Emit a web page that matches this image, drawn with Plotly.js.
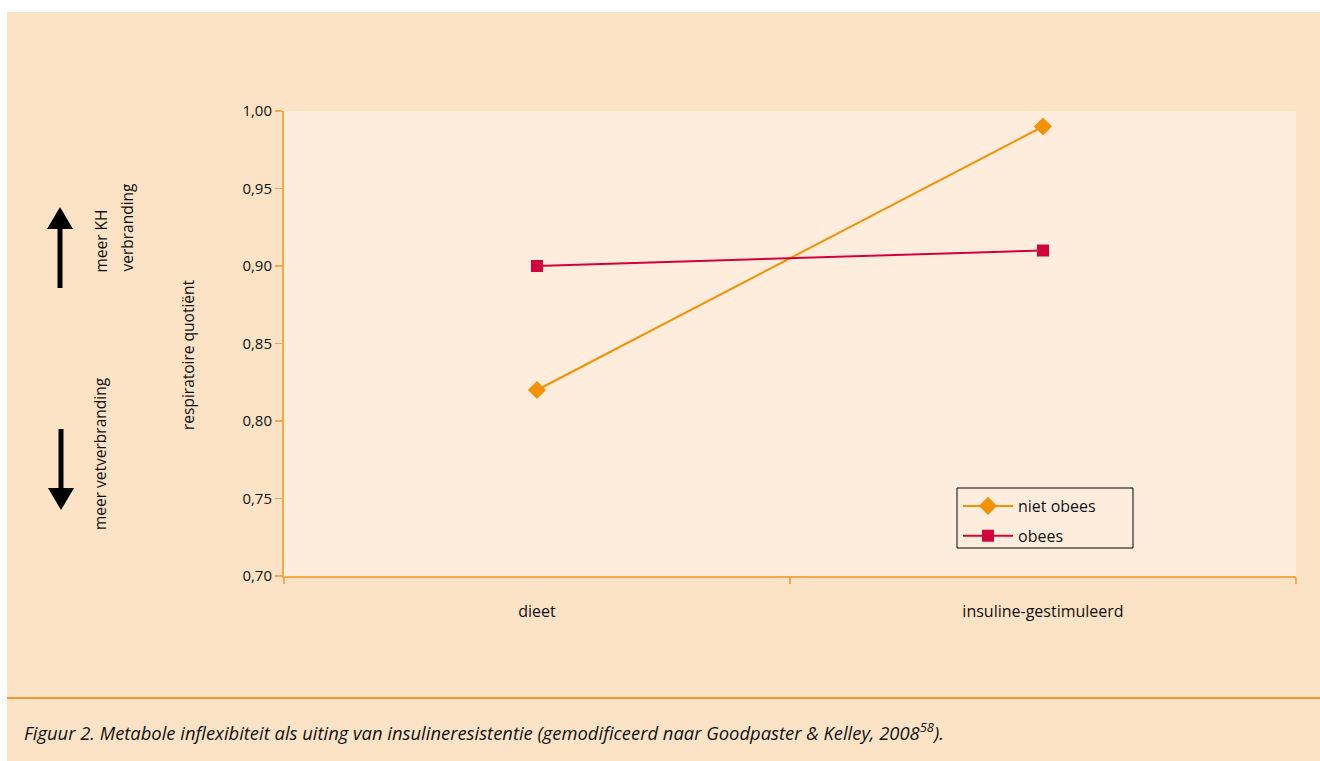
<!DOCTYPE html>
<html>
<head>
<meta charset="utf-8">
<script src="https://cdn.plot.ly/plotly-3.0.1.min.js"></script>
<style>html,body{margin:0;padding:0;background:#fff;}#chart{width:1320px;height:761px;}</style>
</head>
<body>
<div id="chart"></div>
<script>
const categories = ["dieet", "insuline-gestimuleerd"];
const nietObees = [0.82, 0.99];
const obees = [0.90, 0.91];
const seriesNames = ["niet obees", "obees"];
const yTicks = [0.70, 0.75, 0.80, 0.85, 0.90, 0.95, 1.00];
const yTickLabels = ["0,70", "0,75", "0,80", "0,85", "0,90", "0,95", "1,00"];

const W = 1320, H = 761;
const L = 284, R = 1296, T = 111, B = 576;
const pw = R - L, ph = B - T;
const px = x => (x - L) / pw;
const py = y => (B - y) / ph;

const FONT = "Open Sans, DejaVu Sans, sans-serif";
const axisColor = "#F5A94A";
const plotBg = "#FEEDDC";

const traces = [
  {x: categories, y: nietObees, name: seriesNames[0], type: "scatter", mode: "lines+markers", legendgroup: "a",
   line: {color: "#F39200", width: 2}, marker: {symbol: "diamond", size: 14, color: "#F39200"}},
  {x: categories, y: obees, name: seriesNames[1], type: "scatter", mode: "lines+markers", legendgroup: "b",
   line: {color: "#D2003C", width: 2}, marker: {symbol: "square", size: 12, color: "#D2003C"}}
];

const shapes = [
  {type: "rect", xref: "paper", yref: "paper", x0: px(7), x1: px(1320), y0: py(12), y1: py(761),
   fillcolor: "#FDE3C6", line: {width: 0}, layer: "below"},
  {type: "rect", xref: "paper", yref: "paper", x0: 0, x1: 1, y0: 0, y1: 1,
   fillcolor: plotBg, line: {width: 0}, layer: "below"},
  {type: "line", xref: "paper", yref: "paper", x0: px(7), x1: px(1320), y0: py(698), y1: py(698),
   line: {color: "#F39A2E", width: 2}},
  // legend box
  {type: "rect", xref: "paper", yref: "paper", x0: px(957), x1: px(1133), y0: py(488), y1: py(548),
   fillcolor: plotBg, line: {color: "#000", width: 1}},
  // up arrow
  {type: "line", xref: "paper", yref: "paper", x0: px(60), x1: px(60), y0: py(288), y1: py(226),
   line: {color: "#000", width: 5}},
  {type: "path", xref: "paper", yref: "paper",
   path: `M ${px(47)} ${py(229)} L ${px(73)} ${py(229)} L ${px(60)} ${py(207)} Z`,
   fillcolor: "#000", line: {width: 0}},
  // down arrow
  {type: "line", xref: "paper", yref: "paper", x0: px(61), x1: px(61), y0: py(429), y1: py(490),
   line: {color: "#000", width: 5}},
  {type: "path", xref: "paper", yref: "paper",
   path: `M ${px(48)} ${py(488)} L ${px(74)} ${py(488)} L ${px(61)} ${py(510)} Z`,
   fillcolor: "#000", line: {width: 0}}
];

const sideFont = {family: FONT, size: 15.5, color: "#111"};
const annotations = [
  {xref: "paper", yref: "paper", x: px(100), y: py(275), xanchor: "center", yanchor: "bottom",
   text: "meer KH", showarrow: false, textangle: -90, font: sideFont},
  {xref: "paper", yref: "paper", x: px(126), y: py(274), xanchor: "center", yanchor: "bottom",
   text: "verbranding", showarrow: false, textangle: -90, font: sideFont},
  {xref: "paper", yref: "paper", x: px(100), y: py(454), xanchor: "center", yanchor: "middle",
   text: "meer vetverbranding", showarrow: false, textangle: -90, font: sideFont},
  {xref: "paper", yref: "paper", x: px(188), y: py(355), xanchor: "center", yanchor: "middle",
   text: "respiratoire quotiënt", showarrow: false, textangle: -90, font: sideFont},
  {xref: "paper", yref: "paper", x: px(22), y: py(731), xanchor: "left", yanchor: "middle",
   text: "<i>Figuur 2. Metabole inflexibiteit als uiting van insulineresistentie (gemodificeerd naar Goodpaster &amp; Kelley, 2008<sup>58</sup>).</i>",
   showarrow: false, font: {family: FONT, size: 18.4, color: "#111"}}
];

const layout = {
  width: W, height: H,
  margin: {l: L, r: W - R, t: T, b: H - B, pad: 0},
  paper_bgcolor: "#ffffff",
  plot_bgcolor: "rgba(0,0,0,0)",
  showlegend: true,
  legend: {x: px(958), y: py(489), xanchor: "left", yanchor: "top",
           bgcolor: "rgba(0,0,0,0)", borderwidth: 0,
           font: {family: FONT, size: 16, color: "#111"},
           traceorder: "grouped", tracegroupgap: 6, itemwidth: 50},
  xaxis: {type: "category", range: [-0.5, 1.5], showgrid: false, zeroline: false,
          showline: true, linecolor: axisColor, linewidth: 2,
          ticks: "outside", tickson: "boundaries", ticklen: 6, tickcolor: axisColor, tickwidth: 1.5,
          tickfont: {family: FONT, size: 16, color: "#111"}, ticklabelstandoff: 20, fixedrange: true},
  yaxis: {range: [0.70, 1.00], tickvals: yTicks, ticktext: yTickLabels, showgrid: false, zeroline: false,
          showline: true, linecolor: axisColor, linewidth: 2,
          ticks: "outside", ticklen: 7, tickcolor: axisColor, tickwidth: 1.5,
          tickfont: {family: FONT, size: 15, color: "#111"}, fixedrange: true},
  shapes: shapes,
  annotations: annotations
};

Plotly.newPlot("chart", traces, layout, {displayModeBar: false, staticPlot: true});
</script>
</body>
</html>
